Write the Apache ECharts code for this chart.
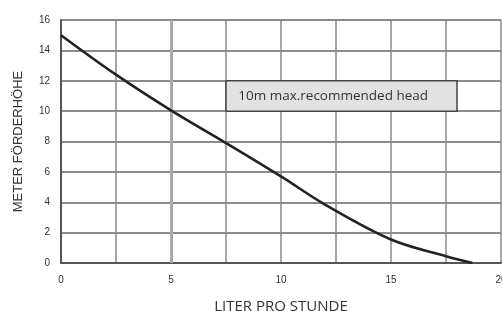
<!DOCTYPE html>
<html><head><meta charset="utf-8">
<script src="https://cdn.jsdelivr.net/npm/echarts@6/dist/echarts.min.js"></script>
<style>html,body{margin:0;padding:0;background:#fff}#c{width:502px;height:311px}</style>
</head><body><div id="c"></div>
<script>
const flow = [0, 2.5, 5, 7.5, 10, 12, 15, 17.5, 18.7];
const head = [15, 12.4, 10.05, 7.9, 5.7, 3.85, 1.55, 0.45, 0];
const xTicks = [0, 5, 10, 15, 20];
const yTicks = [0, 2, 4, 6, 8, 10, 12, 14, 16];
const noteText = '10m max.recommended head';
const noteFrom = [7.5, 12];
const noteTo = [18, 10];

const chart = echarts.init(document.getElementById('c'), null, {renderer: 'canvas'});
chart.setOption({
  animation: false,
  backgroundColor: '#fff',
  grid: {left: 61, right: 1, top: 20, bottom: 48, containLabel: false, outerBoundsMode: 'none'},
  xAxis: {
    type: 'value', min: xTicks[0], max: xTicks[xTicks.length - 1], interval: 2.5,
    name: 'LITER PRO STUNDE', nameLocation: 'middle', nameGap: 36,
    nameTextStyle: {fontFamily: 'Open Sans', fontSize: 15, color: '#333', verticalAlign: 'top'},
    axisLine: {show: true, lineStyle: {color: '#555', width: 2}},
    axisTick: {show: false},
    axisLabel: {
      margin: 12, fontFamily: 'Liberation Sans', fontSize: 10, color: '#333',
      formatter: v => xTicks.includes(v) ? String(v) : ''
    },
    splitLine: {show: true, lineStyle: {color: '#8a8a8a', width: 1.5}}
  },
  yAxis: {
    type: 'value', min: yTicks[0], max: yTicks[yTicks.length - 1], interval: 2,
    name: 'METER FÖRDERHÖHE', nameLocation: 'middle', nameGap: 36, nameRotate: 90,
    nameTextStyle: {fontFamily: 'Liberation Sans', fontSize: 13, color: '#333'},
    axisLine: {show: true, lineStyle: {color: '#555', width: 2}},
    axisTick: {show: false},
    axisLabel: {margin: 11, fontFamily: 'Liberation Sans', fontSize: 10, color: '#333'},
    splitLine: {show: true, lineStyle: {color: '#666', width: 1.5}}
  },
  series: [{
    type: 'line',
    data: flow.map((x, i) => [x, head[i]]),
    smooth: 0.35,
    symbol: 'none',
    lineStyle: {color: '#222', width: 2.6},
    z: 5,
    markLine: {
      silent: true, symbol: 'none', label: {show: false},
      lineStyle: {color: '#aaa', width: 3, type: 'solid'},
      data: [{xAxis: 5}]
    },
    markArea: {
      silent: true,
      itemStyle: {color: '#e2e2e2', borderColor: '#444', borderWidth: 1.5},
      label: {
        show: true, position: 'insideLeft', distance: 13,
        fontFamily: 'Open Sans', fontSize: 13.5, color: '#333'
      },
      data: [[{coord: noteFrom, name: noteText}, {coord: noteTo}]]
    }
  }]
});
</script>
</body></html>
